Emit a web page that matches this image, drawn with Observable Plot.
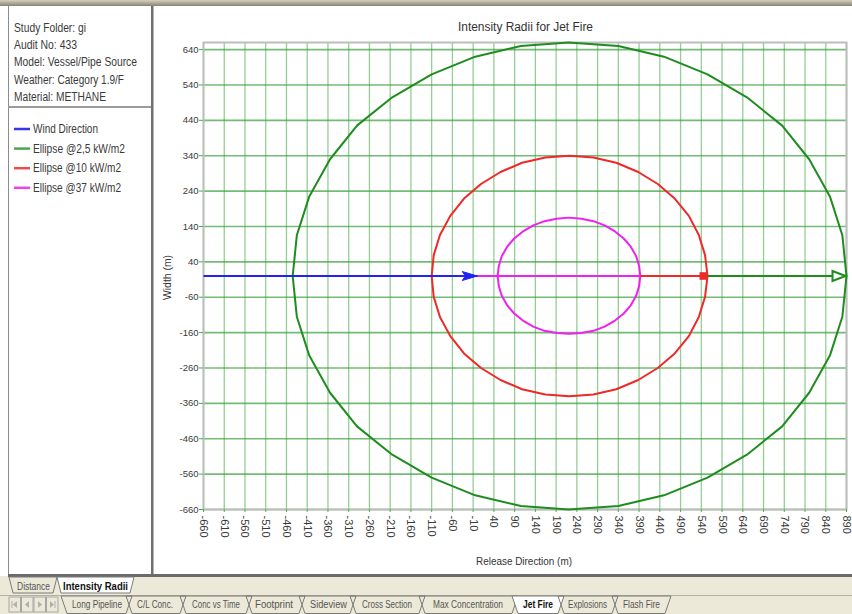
<!DOCTYPE html>
<html>
<head>
<meta charset="utf-8">
<script src="https://cdn.jsdelivr.net/npm/d3@7"></script>
<script src="https://cdn.jsdelivr.net/npm/@observablehq/plot@0.6"></script>
<style>
  html, body { margin: 0; padding: 0; background: #fff; }
  body { width: 852px; height: 614px; overflow: hidden; position: relative; font-family: Arial, "Liberation Sans", sans-serif; }
  #chrome { position: absolute; left: 0; top: 0; }
  #chart { position: absolute; left: 153px; top: 6px; }
</style>
</head>
<body>
<svg id="chrome" width="852" height="614" xmlns="http://www.w3.org/2000/svg" font-family="Arial, 'Liberation Sans', sans-serif">
  <defs>
    <linearGradient id="topg" x1="0" y1="0" x2="0" y2="1">
      <stop offset="0" stop-color="#d6d0bf"/>
      <stop offset="1" stop-color="#8a8270"/>
    </linearGradient>
  </defs>
  <rect x="0" y="0" width="852" height="614" fill="#fff"/>
  <rect x="0" y="0" width="852" height="6" fill="url(#topg)"/>
  <!-- left panel -->
  <line x1="8.5" y1="6" x2="8.5" y2="576" stroke="#8c8c8c" stroke-width="1"/>
  <rect x="151" y="6" width="2.5" height="570" fill="#707070"/>
  <line x1="8" y1="107" x2="151" y2="107" stroke="#9a9a9a" stroke-width="2"/>
  <g id="info" font-size="12" fill="#3a3a3a"></g>
  <g id="legend" font-size="12" fill="#3a3a3a"></g>
  <!-- chart texts -->
  <text x="458" y="31" font-size="12" fill="#333" textLength="135" lengthAdjust="spacingAndGlyphs">Intensity Radii for Jet Fire</text>
  <text transform="translate(171,300) rotate(-90)" font-size="10.5" fill="#333" textLength="45" lengthAdjust="spacingAndGlyphs">Width (m)</text>
  <text x="476" y="565" font-size="11" fill="#333" textLength="96" lengthAdjust="spacingAndGlyphs">Release Direction (m)</text>
  <!-- bottom tab area -->
  <rect x="0" y="576" width="852" height="38" fill="#ece9d8"/>
  <rect x="8" y="574" width="844" height="3" fill="#6b6b6b"/>
  <line x1="0" y1="595.5" x2="852" y2="595.5" stroke="#b4b1a3" stroke-width="1"/>
  <g id="tabs1" font-size="10"></g>
  <g id="nav"></g>
  <g id="tabs2" font-size="10"></g>
</svg>
<div id="chart"></div>
<script>
// ---- chart data ----
const xTicks = [-660,-610,-560,-510,-460,-410,-360,-310,-260,-210,-160,-110,-60,-10,40,90,140,190,240,290,340,390,440,490,540,590,640,690,740,790,840,890];
const yTicks = [640,540,440,340,240,140,40,-60,-160,-260,-360,-460,-560,-660];

const seriesNames = ["Wind Direction", "Ellipse @2,5 kW/m2", "Ellipse @10 kW/m2", "Ellipse @37 kW/m2"];
const seriesColors = ["#2323f0", "#1e8c1e", "#f02828", "#f020f0"];
const legendColors = ["#3535f5", "#4aa84a", "#f04a4a", "#f040f0"];

// ellipse outlines (m)
const greenX = [890,880,850,800,735,650,555,450,340,220,105,-5,-110,-205,-290,-355,-405,-435,-445,-435,-405,-355,-290,-205,-110,-5,105,220,340,450,555,650,735,800,850,880,890];
const greenY = [0,115,225,330,425,505,570,620,650,660,650,620,570,505,425,330,225,115,0,-115,-225,-330,-425,-505,-570,-620,-650,-660,-650,-620,-570,-505,-425,-330,-225,-115,0];
const redX = [555,549,534,510,476,435,388,335,280,222,164,108,56,9,-32,-65,-90,-105,-110,-105,-90,-65,-32,9,56,108,164,222,280,335,388,435,476,510,534,549,555];
const redY = [0,59,116,170,219,260,294,320,335,340,335,320,294,260,219,170,116,59,0,-59,-116,-170,-219,-260,-294,-320,-335,-340,-335,-320,-294,-260,-219,-170,-116,-59,0];
const magX = [393,390,383,370,353,332,307,280,251,221,191,162,135,110,89,72,59,52,49,52,59,72,89,110,135,162,191,221,251,280,307,332,353,370,383,390,393];
const magY = [0,29,56,83,106,126,143,155,162,165,162,155,143,126,106,83,56,29,0,-29,-56,-83,-106,-126,-143,-155,-161,-163,-161,-155,-143,-126,-106,-83,-56,-29,0];

// centre lines along the release direction
const lineSeries = ["Ellipse @2,5 kW/m2", "Ellipse @10 kW/m2", "Ellipse @37 kW/m2", "Wind Direction"];
const lineStart = [0, 0, 0, -660];
const lineEnd = [890, 553, 393, 0];
const lineY = [0, 0, 0, 0];

// end markers
const markerSeries = ["Wind Direction", "Ellipse @2,5 kW/m2", "Ellipse @10 kW/m2"];
const markerX = [0, 890, 545];
const markerY = [0, 0, 0];

// info panel
const infoLines = ["Study Folder: gi", "Audit No: 433", "Model: Vessel/Pipe Source", "Weather: Category 1.9/F", "Material: METHANE"];

// ---- tables ----
const ellipses = [];
[["Ellipse @2,5 kW/m2", greenX, greenY], ["Ellipse @10 kW/m2", redX, redY], ["Ellipse @37 kW/m2", magX, magY]]
  .forEach(([s, xs, ys]) => xs.forEach((x, i) => ellipses.push({series: s, x, y: ys[i]})));
const centre = lineSeries.map((s, i) => ({series: s, x1: lineStart[i], x2: lineEnd[i], y: lineY[i]}));
const markers = markerSeries.map((s, i) => ({series: s, x: markerX[i], y: markerY[i]}));

const arrowFilled = { draw(ctx) { ctx.moveTo(0, 0); ctx.lineTo(-15, -4.5); ctx.lineTo(-12, 0); ctx.lineTo(-15, 4.5); ctx.closePath(); } };
const arrowOpen = { draw(ctx) { ctx.moveTo(-1, 0); ctx.lineTo(-14, -5); ctx.lineTo(-14, 5); ctx.closePath(); } };

const plot = Plot.plot({
  width: 699, height: 570,
  marginLeft: 50, marginRight: 6, marginTop: 36, marginBottom: 67,
  style: {background: "transparent", fontFamily: "Arial, 'Liberation Sans', sans-serif", overflow: "visible"},
  x: {domain: [-660, 890], label: null},
  y: {domain: [-660, 660], label: null},
  color: {domain: seriesNames, range: seriesColors},
  marks: [
    Plot.gridX({ticks: xTicks, stroke: "#4cae4c", strokeOpacity: 0.6, strokeWidth: 1.3}),
    Plot.gridY({ticks: yTicks, stroke: "#3a9e3a", strokeOpacity: 0.7, strokeWidth: 1.6}),
    Plot.frame({stroke: "#bdbdbd", strokeWidth: 2}),
    Plot.axisY({ticks: yTicks, tickSize: 4, tickPadding: 1, stroke: "#4cae4c", color: "#3a3a3a", fontSize: 9.5, tickFormat: d => String(d), label: null}),
    Plot.axisX({ticks: xTicks, tickRotate: 90, tickSize: 3, tickPadding: 3, stroke: "#4cae4c", color: "#3a3a3a", fontSize: 11, tickFormat: d => String(d), label: null}),
    Plot.line(ellipses, {x: "x", y: "y", z: "series", stroke: "series", strokeWidth: 2, strokeLinejoin: "round"}),
    Plot.link(centre, {x1: "x1", x2: "x2", y1: "y", y2: "y", stroke: "series", strokeWidth: 2}),
    Plot.dot(markers.filter(d => d.series === "Wind Direction"), {x: "x", y: "y", symbol: arrowFilled, fill: "series", stroke: "series", strokeWidth: 1}),
    Plot.dot(markers.filter(d => d.series === "Ellipse @2,5 kW/m2"), {x: "x", y: "y", symbol: arrowOpen, fill: "white", stroke: "series", strokeWidth: 2}),
    Plot.dot(markers.filter(d => d.series === "Ellipse @10 kW/m2"), {x: "x", y: "y", symbol: "square", r: 3.5, fill: "series", stroke: "series"})
  ]
});
document.getElementById("chart").appendChild(plot);

// ---- window chrome ----
const NS = "http://www.w3.org/2000/svg";
function el(parent, tag, attrs, text) {
  const e = document.createElementNS(NS, tag);
  for (const k in attrs) e.setAttribute(k, attrs[k]);
  if (text != null) e.textContent = text;
  parent.appendChild(e);
  return e;
}
const info = document.getElementById("info");
const infoW = [72, 63, 123, 110, 92];
infoLines.forEach((t, i) => el(info, "text", {x: 14, y: 32 + i * 17.2, textLength: infoW[i], lengthAdjust: "spacingAndGlyphs"}, t));

const legend = document.getElementById("legend");
const legW = [65, 92, 88, 88];
seriesNames.forEach((s, i) => {
  const y = 129 + i * 19.6;
  el(legend, "line", {x1: 14, x2: 30, y1: y, y2: y, stroke: legendColors[i], "stroke-width": 2.5});
  el(legend, "text", {x: 33, y: y + 4, textLength: legW[i], lengthAdjust: "spacingAndGlyphs"}, s);
});

// first tab row
const tabs1 = document.getElementById("tabs1");
const row1 = [
  {label: "Distance", s0: 9, s1: 57, tx: 17, tw: 33, sel: false},
  {label: "Intensity Radii", s0: 57, s1: 134, tx: 63, tw: 65, sel: true}
];
row1.forEach(t => {
  el(tabs1, "polygon", {points: `${t.s0},577 ${t.s0+4},593 ${t.s1-4},593 ${t.s1},577`, fill: t.sel ? "#fff" : "none", stroke: "#7a7a7a", "stroke-width": 1});
  el(tabs1, "text", {x: t.tx, y: 590, fill: t.sel ? "#111" : "#555", "font-weight": t.sel ? "bold" : "normal", textLength: t.tw, lengthAdjust: "spacingAndGlyphs"}, t.label);
});

// nav buttons
const nav = document.getElementById("nav");
[9, 21.5, 34, 46.5].forEach(x => {
  el(nav, "rect", {x, y: 597, width: 11.5, height: 15, fill: "#ece9d8", stroke: "#a6a6a6"});
});
[["M13,604.5 L17,601 L17,608 Z", 12], ["M25,604.5 L29,601 L29,608 Z", null], ["M42,604.5 L38,601 L38,608 Z", null], ["M54,604.5 L50,601 L50,608 Z", 55]]
  .forEach(([d, bar]) => {
    el(nav, "path", {d, fill: "#b0b0b0"});
    if (bar != null) el(nav, "line", {x1: bar, x2: bar, y1: 601, y2: 608, stroke: "#b0b0b0"});
  });

// second tab row
const tabs2 = document.getElementById("tabs2");
const tabLabels = ["Long Pipeline", "C/L Conc.", "Conc vs Time", "Footprint", "Sideview", "Cross Section", "Max Concentration", "Jet Fire", "Explosions", "Flash Fire"];
const tabSeps = [64, 129, 183, 249, 302, 353, 422, 515, 561, 615, 668];
const tabTx = [72, 137, 192, 255, 310, 362, 433, 523, 568, 623];
const tabTw = [50, 36, 48, 38, 37, 50, 70, 30, 39, 37];
tabLabels.forEach((lab, i) => {
  const s0 = tabSeps[i], s1 = tabSeps[i + 1], sel = lab === "Jet Fire";
  el(tabs2, "polygon", {points: `${s0-3},596 ${s0+3},613.5 ${s1-3},613.5 ${s1+3},596`, fill: sel ? "#fff" : "none", stroke: "#7a7a7a", "stroke-width": 1});
  el(tabs2, "text", {x: tabTx[i], y: 608, fill: sel ? "#111" : "#555", "font-weight": sel ? "bold" : "normal", textLength: tabTw[i], lengthAdjust: "spacingAndGlyphs"}, lab);
});
</script>
</body>
</html>
